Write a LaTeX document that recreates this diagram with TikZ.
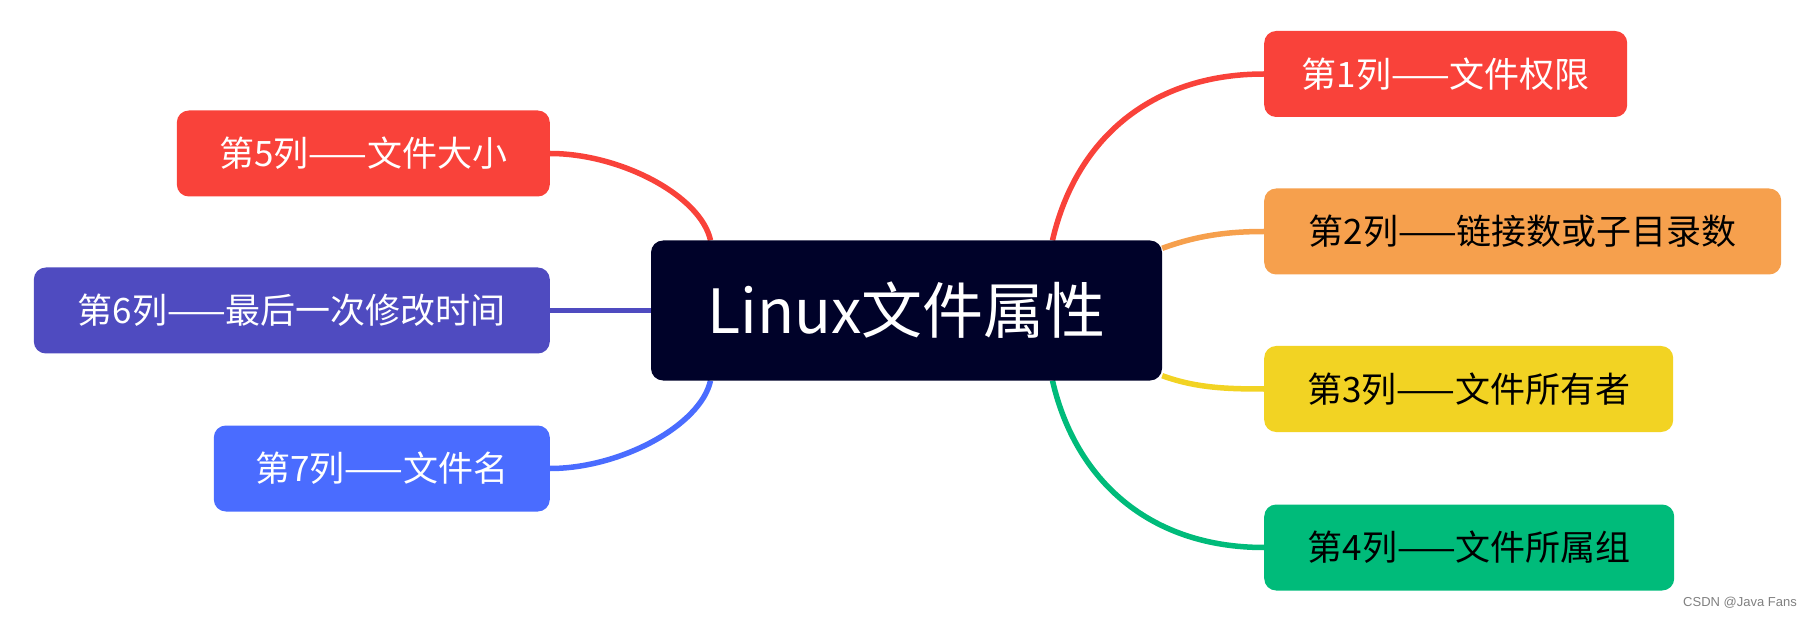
\documentclass[tikz,border=0pt]{standalone}
\usepackage{fontspec}
\setmainfont{Noto Sans CJK SC}
\newfontfamily\wmfont{Liberation Sans}
\usepackage{tikz}
\usetikzlibrary{backgrounds}
\definecolor{mmnavy}{HTML}{000229}
\definecolor{mmred}{HTML}{F9423A}
\definecolor{mmorange}{HTML}{F6A04D}
\definecolor{mmyellow}{HTML}{F2D323}
\definecolor{mmgreen}{HTML}{00BB7A}
\definecolor{mmpurple}{HTML}{4F4BC0}
\definecolor{mmblue}{HTML}{4A6CFF}

\begin{document}
\begin{tikzpicture}[x=1pt,y=-1pt,line join=round,
  hub/.style={fill=mmnavy,text=white,rounded corners=12pt,inner sep=0pt,minimum width=511pt,minimum height=140pt,font=\fontsize{61}{70}\selectfont},
  topic/.style={rounded corners=12pt,inner sep=0pt,minimum height=86pt,font=\fontsize{35}{40}\selectfont},
  branch/.style={line width=5.5pt}]
 	\useasboundingbox (0,0) rectangle (1813,620);
 	\node[hub] (attr) at (906.5,310.5) {Linux文件属性};
 	\node[topic,fill=mmred,text=white,minimum width=363pt,anchor=west] (perm) at (1264,74) {第1列——文件权限};
 	\node[topic,fill=mmorange,text=black,minimum width=517pt,anchor=west] (links) at (1264,231.5) {第2列——链接数或子目录数};
 	\node[topic,fill=mmyellow,text=black,minimum width=409pt,anchor=west] (owner) at (1264,389) {第3列——文件所有者};
 	\node[topic,fill=mmgreen,text=black,minimum width=410pt,anchor=west] (group) at (1264,547.5) {第4列——文件所属组};
 	\node[topic,fill=mmred,text=white,minimum width=373pt,anchor=east] (size) at (550,153.5) {第5列——文件大小};
 	\node[topic,fill=mmpurple,text=white,minimum width=516pt,anchor=east] (mtime) at (550,310.5) {第6列——最后一次修改时间};
 	\node[topic,fill=mmblue,text=white,minimum width=336pt,anchor=east] (fname) at (550,468.5) {第7列——文件名};
 	\node[font=\wmfont\fontsize{13}{15}\selectfont,text=gray] (mark) at (1740,603) {CSDN @Java Fans};
 	\begin{scope}[on background layer]
 	\draw[branch,mmred] ([xshift=146pt]attr.north) .. controls +(23,-100) and +(-114,0) .. (perm.west);
 	\draw[branch,mmorange] ([yshift=-8pt]attr.north east) .. controls +(33,-12) and +(-39,0) .. (links.west);
 	\draw[branch,mmyellow] ([yshift=5pt]attr.south east) .. controls +(33,12) and +(-39,0) .. (owner.west);
 	\draw[branch,mmgreen] ([xshift=146pt]attr.south) .. controls +(23,100) and +(-114,0) .. (group.west);
 	\draw[branch,mmred] ([xshift=-196pt]attr.north) .. controls +(-10,-45) and +(70,0) .. (size.east);
 	\draw[branch,mmpurple] (attr.west) -- (mtime.east);
 	\draw[branch,mmblue] ([xshift=-196pt]attr.south) .. controls +(-10,45) and +(70,0) .. (fname.east);
 	\end{scope}
\end{tikzpicture}
\end{document}
